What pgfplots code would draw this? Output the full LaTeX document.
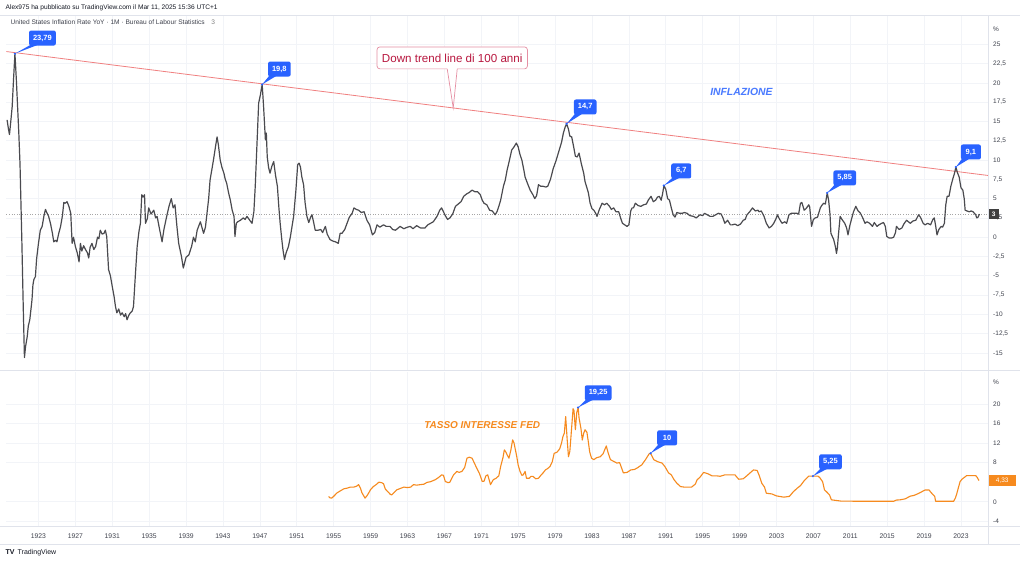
\documentclass[border=0pt]{standalone}
\usepackage{pgfplots}
\pgfplotsset{compat=1.18}
\usepackage{fontspec}
\setmainfont{Liberation Sans}
\definecolor{tvblue}{HTML}{2962FF}
\definecolor{infl}{HTML}{4A4A4F}
\definecolor{fed}{HTML}{F68A1E}
\definecolor{trend}{HTML}{F08080}
\definecolor{gridc}{HTML}{F2F4F8}
\definecolor{sepc}{HTML}{E0E3EB}
\definecolor{txt}{HTML}{131722}
\definecolor{ticktxt}{HTML}{3F424D}
\definecolor{crim}{HTML}{B8173F}
\definecolor{crimb}{HTML}{E58FA3}

\pgfplotstableread{
yr v
1919.6 15.2
1919.75 14.0
1919.86 13.3
1920.0 15.0
1920.15 16.9
1920.3 20.5
1920.45 23.79
1920.6 20.5
1920.87 13.5
1921.0 9.5
1921.2 -0.5
1921.35 -9
1921.48 -15.6
1921.6 -14.2
1921.78 -12.9
1921.9 -11.5
1922.06 -10.7
1922.2 -9.2
1922.3 -8.1
1922.4 -6.2
1922.5 -5.5
1922.67 -5.1
1922.8 -2.8
1923.0 -0.8
1923.2 0.9
1923.4 1.4
1923.6 2.8
1923.76 3.6
1923.9 3.2
1924.1 2.7
1924.3 1.8
1924.5 0.6
1924.66 -0.6
1924.85 -0.4
1925.0 -0.6
1925.2 0.5
1925.4 1.4
1925.6 2.8
1925.75 4.5
1925.9 4.4
1926.1 4.6
1926.3 4.0
1926.5 3.1
1926.65 -0.8
1926.8 0.0
1927.0 -1.2
1927.2 -2.0
1927.4 -3.2
1927.55 -0.8
1927.7 -1.8
1927.9 -1.1
1928.1 -1.6
1928.3 -2.0
1928.45 -2.7
1928.6 -1.3
1928.8 -0.8
1929.0 -1.6
1929.2 -1.2
1929.4 0.0
1929.55 -0.2
1929.7 0.9
1929.9 0.4
1930.1 0.5
1930.25 0.9
1930.4 0.1
1930.6 -4.2
1930.8 -5.0
1931.0 -6.4
1931.2 -7.7
1931.35 -9.0
1931.5 -9.8
1931.7 -9.3
1931.9 -10.1
1932.07 -9.8
1932.3 -10.3
1932.45 -9.9
1932.6 -10.7
1932.8 -10.1
1932.96 -9.8
1933.15 -9.6
1933.3 -9.0
1933.5 -5.0
1933.7 -1.2
1933.9 0.8
1934.05 1.8
1934.2 5.5
1934.35 5.2
1934.5 5.5
1934.6 1.8
1934.8 2.4
1934.95 3.8
1935.2 3.0
1935.5 3.5
1935.7 2.5
1935.86 2.7
1936.1 1.2
1936.4 -0.6
1936.6 1.0
1936.9 2.7
1937.15 4.0
1937.4 5.0
1937.6 3.8
1937.8 4.2
1938.0 1.5
1938.2 -0.8
1938.5 -2.5
1938.7 -4.0
1939.0 -2.6
1939.3 -2.3
1939.6 -1.2
1939.8 0.0
1940.0 -0.6
1940.2 0.9
1940.55 2.0
1940.9 0.5
1941.1 1.3
1941.25 2.9
1941.45 5.0
1941.6 7.4
1941.8 8.8
1941.97 10.0
1942.2 11.8
1942.36 13.0
1942.5 12.0
1942.7 10.0
1942.9 9.0
1943.1 8.3
1943.25 7.5
1943.4 7.0
1943.6 5.8
1943.8 4.8
1944.0 3.5
1944.2 2.7
1944.3 0.1
1944.45 1.8
1944.6 2.0
1944.9 2.2
1945.2 2.5
1945.4 2.3
1945.6 2.7
1945.9 2.2
1946.15 1.8
1946.35 3.3
1946.5 6.6
1946.65 11.0
1946.87 17.4
1947.05 18.4
1947.25 19.8
1947.4 17.0
1947.6 12.6
1947.7 13.5
1947.8 10.4
1947.95 9.0
1948.1 8.3
1948.3 9.2
1948.5 9.8
1948.7 8.0
1948.9 6.6
1949.05 4.0
1949.2 1.8
1949.35 0.0
1949.5 -1.6
1949.67 -2.9
1949.85 -2.0
1950.1 -1.2
1950.3 0.0
1950.5 1.5
1950.66 2.7
1950.9 6.0
1951.1 9.4
1951.25 9.6
1951.4 9.1
1951.55 7.8
1951.74 6.8
1951.9 4.5
1952.1 2.7
1952.3 1.9
1952.5 2.6
1952.65 2.9
1952.85 1.8
1953.0 0.9
1953.3 0.9
1953.6 1.0
1953.8 0.6
1954.1 1.4
1954.3 0.4
1954.6 -0.3
1954.9 -0.5
1955.2 -0.6
1955.5 -0.8
1955.7 0.5
1955.9 0.5
1956.2 1.0
1956.45 1.8
1956.7 2.6
1957.0 3.1
1957.2 3.8
1957.45 3.6
1957.7 3.5
1958.0 3.2
1958.3 3.3
1958.6 2.2
1958.9 1.6
1959.2 0.3
1959.45 0.6
1959.7 1.6
1960.0 1.3
1960.4 1.6
1960.7 1.4
1961.1 1.4
1961.4 1.0
1961.7 0.9
1962.0 1.2
1962.2 1.4
1962.6 1.1
1963.0 1.3
1963.3 1.4
1963.6 1.1
1964.0 1.5
1964.4 1.2
1964.9 1.2
1965.2 1.6
1965.5 1.8
1965.8 2.0
1966.2 2.7
1966.5 3.5
1966.7 3.8
1966.9 3.3
1967.1 2.8
1967.35 2.3
1967.6 2.5
1967.9 3.0
1968.2 4.0
1968.5 4.3
1968.8 4.6
1969.1 5.3
1969.4 5.6
1969.7 5.8
1970.0 6.1
1970.3 5.9
1970.6 5.9
1970.9 5.5
1971.1 4.8
1971.3 4.4
1971.6 4.2
1971.9 3.5
1972.2 3.4
1972.5 2.9
1972.7 3.3
1972.9 4.0
1973.1 4.8
1973.4 6.6
1973.6 7.4
1973.8 8.7
1974.0 9.7
1974.3 11.3
1974.55 11.7
1974.8 12.2
1975.0 11.7
1975.2 10.7
1975.4 10.0
1975.6 8.8
1975.75 7.8
1976.0 7.0
1976.3 6.1
1976.6 5.5
1976.8 5.0
1977.0 5.4
1977.2 6.8
1977.45 6.6
1977.7 6.6
1978.0 6.5
1978.2 6.6
1978.5 7.5
1978.8 8.9
1979.1 9.9
1979.4 11.1
1979.7 12.3
1979.9 13.5
1980.1 14.3
1980.25 14.7
1980.45 14.0
1980.6 13.1
1980.8 13.0
1981.0 11.8
1981.2 10.5
1981.4 10.4
1981.6 10.9
1981.85 9.5
1982.1 8.3
1982.25 7.2
1982.4 6.6
1982.6 5.8
1982.8 4.4
1983.0 3.7
1983.2 3.5
1983.4 3.1
1983.55 2.7
1983.8 3.6
1984.1 4.4
1984.35 4.2
1984.6 4.4
1984.9 4.0
1985.1 3.6
1985.35 3.8
1985.6 3.3
1985.9 3.3
1986.1 2.5
1986.3 1.8
1986.55 1.6
1986.8 1.4
1987.0 1.6
1987.2 3.4
1987.35 3.8
1987.5 3.8
1987.7 4.4
1988.0 4.1
1988.3 4.0
1988.6 4.2
1988.9 4.3
1989.1 4.8
1989.4 5.3
1989.65 4.6
1989.9 4.8
1990.1 5.2
1990.3 5.3
1990.5 4.8
1990.65 5.6
1990.8 6.7
1991.0 6.2
1991.2 5.0
1991.4 4.8
1991.6 3.8
1991.8 2.9
1992.0 2.6
1992.2 3.2
1992.5 3.1
1992.8 3.1
1993.0 3.2
1993.3 3.1
1993.6 2.8
1994.0 2.7
1994.3 2.5
1994.7 2.9
1995.0 2.8
1995.2 3.1
1995.5 2.9
1995.8 2.7
1996.1 2.7
1996.4 2.9
1996.7 3.1
1997.0 3.0
1997.2 2.5
1997.4 1.8
1997.7 2.2
1998.0 1.6
1998.2 1.6
1998.5 1.7
1998.8 1.5
1999.1 1.7
1999.4 2.2
1999.6 2.3
1999.8 2.9
2000.1 3.3
2000.4 3.8
2000.7 3.4
2001.0 3.5
2001.1 3.3
2001.35 3.4
2001.65 2.7
2001.9 1.8
2002.2 1.2
2002.45 1.4
2002.7 1.8
2002.95 2.4
2003.1 2.9
2003.3 2.4
2003.6 1.8
2003.9 2.0
2004.1 1.8
2004.35 2.9
2004.6 3.1
2004.9 3.1
2005.2 3.1
2005.4 3.0
2005.6 4.4
2005.75 4.5
2006.0 3.5
2006.2 3.7
2006.5 4.2
2006.6 3.9
2006.8 1.4
2007.0 2.3
2007.2 2.5
2007.45 2.6
2007.75 3.8
2007.9 4.1
2008.1 4.4
2008.3 4.3
2008.5 5.75
2008.65 4.8
2008.8 3.0
2008.9 0.5
2009.05 0.1
2009.2 -0.3
2009.4 -1.3
2009.5 -2.1
2009.6 -1.4
2009.7 0.1
2009.9 2.7
2010.1 2.3
2010.4 1.8
2010.6 1.2
2010.75 0.3
2010.95 1.5
2011.1 2.2
2011.35 3.3
2011.6 4.0
2011.85 3.4
2012.1 3.1
2012.35 2.5
2012.6 1.8
2012.8 2.0
2013.1 1.8
2013.4 1.4
2013.6 1.9
2013.9 1.4
2014.1 1.6
2014.4 1.8
2014.6 1.9
2014.8 1.4
2014.95 0.1
2015.2 -0.1
2015.5 -0.1
2015.7 0.0
2015.9 0.6
2016.0 1.4
2016.3 1.0
2016.6 1.2
2016.8 1.7
2017.1 2.2
2017.3 2.0
2017.5 1.8
2017.8 2.1
2018.1 2.2
2018.4 2.9
2018.6 2.6
2018.9 1.8
2019.1 1.6
2019.4 1.8
2019.7 1.6
2019.95 2.3
2020.1 2.5
2020.25 1.5
2020.4 0.3
2020.6 1.0
2020.85 1.4
2021.0 1.3
2021.2 1.8
2021.35 4.2
2021.5 5.3
2021.7 5.3
2021.9 6.6
2022.1 7.5
2022.3 8.3
2022.45 9.1
2022.6 8.4
2022.8 7.8
2023.0 6.4
2023.2 6.1
2023.35 5.0
2023.45 3.5
2023.65 3.4
2023.9 3.3
2024.1 3.4
2024.3 3.3
2024.45 3.1
2024.6 2.9
2024.7 2.5
2024.85 2.6
2025.0 3.0
}\inflation

\pgfplotstableread{
yr v
1954.45 1.08
1954.6 0.8
1954.8 0.75
1955.1 1.3
1955.35 1.8
1955.7 2.2
1956.1 2.65
1956.5 2.8
1956.8 3.0
1957.2 3.0
1957.5 3.2
1957.7 3.5
1957.9 2.8
1958.05 1.9
1958.2 1.4
1958.4 0.75
1958.6 1.2
1958.8 1.8
1959.0 2.5
1959.3 3.1
1959.6 3.5
1959.9 4.0
1960.2 3.9
1960.4 3.7
1960.6 2.6
1961.0 1.8
1961.15 1.5
1961.3 1.4
1961.5 1.8
1961.85 2.45
1962.2 2.7
1962.6 3.0
1963.0 2.9
1963.35 3.0
1963.65 3.5
1964.0 3.4
1964.4 3.5
1964.8 3.6
1965.1 3.95
1965.5 4.1
1966.0 4.5
1966.4 5.0
1966.7 5.5
1966.9 5.4
1967.1 4.15
1967.4 3.9
1967.6 4.0
1967.8 4.8
1968.0 5.5
1968.35 6.2
1968.6 6.0
1968.9 6.2
1969.2 7.0
1969.45 8.9
1969.7 9.1
1970.0 8.9
1970.25 7.9
1970.5 6.9
1970.8 5.8
1971.1 4.15
1971.3 4.2
1971.5 5.3
1971.7 5.5
1972.0 3.5
1972.3 4.5
1972.6 4.8
1972.9 5.3
1973.1 7.2
1973.35 9.0
1973.5 10.6
1973.65 10.2
1973.8 9.6
1974.0 8.9
1974.2 10.5
1974.4 12.65
1974.55 12.0
1974.85 9.2
1975.0 7.5
1975.2 6.2
1975.4 5.4
1975.55 5.5
1975.75 6.2
1975.9 4.8
1976.2 4.8
1976.4 5.2
1976.6 5.2
1976.9 4.7
1977.2 4.8
1977.45 5.4
1977.7 5.9
1977.95 6.5
1978.2 6.8
1978.45 7.2
1978.7 8.2
1978.9 9.9
1979.2 10.1
1979.5 10.8
1979.7 12.0
1979.85 13.3
1980.0 14.0
1980.15 17.4
1980.3 13.0
1980.45 9.2
1980.6 10.3
1980.75 14.0
1980.95 19.0
1981.05 18.6
1981.2 14.7
1981.35 18.2
1981.5 19.25
1981.6 17.1
1981.8 15.0
1981.95 12.6
1982.1 14.0
1982.25 14.7
1982.45 14.2
1982.6 12.3
1982.75 10.2
1982.95 8.9
1983.2 8.6
1983.5 9.0
1983.9 9.2
1984.2 9.8
1984.55 11.4
1984.75 10.0
1985.0 8.6
1985.3 8.3
1985.7 7.9
1986.0 8.0
1986.4 5.9
1986.8 6.0
1987.2 6.5
1987.6 6.6
1987.9 6.9
1988.4 7.55
1988.8 8.6
1989.2 9.8
1989.35 9.9
1989.7 8.6
1990.1 8.2
1990.6 7.9
1990.9 7.2
1991.3 5.9
1991.6 5.5
1991.9 4.5
1992.2 3.8
1992.6 3.1
1993.0 3.0
1993.8 3.0
1994.2 3.6
1994.4 4.5
1994.7 5.0
1995.1 6.0
1995.6 5.7
1996.0 5.3
1996.5 5.3
1996.9 5.2
1997.4 5.5
1998.5 5.5
1998.9 4.6
1999.4 4.7
1999.9 5.5
2000.5 6.5
2000.9 6.4
2001.1 5.5
2001.4 3.8
2001.7 3.0
2001.9 1.75
2002.5 1.6
2003.0 1.2
2003.8 0.95
2004.4 1.1
2004.8 2.0
2005.2 2.7
2005.6 3.3
2006.0 4.3
2006.5 5.25
2007.5 5.25
2007.7 4.9
2008.0 4.1
2008.2 2.45
2008.5 1.9
2008.75 1.4
2008.95 0.4
2009.95 0.15
2012.1 0.1
2015.7 0.1
2016.0 0.35
2016.4 0.4
2016.95 0.6
2017.5 1.15
2017.9 1.3
2018.4 1.7
2018.9 2.2
2019.1 2.4
2019.55 2.4
2019.7 2.0
2019.9 1.6
2020.15 1.1
2020.25 0.1
2022.2 0.1
2022.4 0.8
2022.55 1.7
2022.75 3.1
2022.9 4.1
2023.1 4.6
2023.45 5.1
2023.6 5.33
2024.6 5.33
2024.75 5.0
2024.95 4.33
}\fedfunds

\pgfplotsset{
  tvaxis/.style={
    scale only axis, anchor=south west, width=982pt,
    xmin=1919.53, xmax=2025.93,
    clip=false,
    axis line style={draw=none}, tick style={draw=none},
    xtick={1923,1927,...,2023},
    grid=major, major grid style={gridc, line width=0.6pt},
    yticklabel pos=right,
    yticklabel style={anchor=west, inner sep=0pt, xshift=5pt, font=\fontsize{6.5}{7}\selectfont, text=ticktxt},
    xticklabel style={anchor=center, inner sep=0pt, yshift=-9pt, font=\fontsize{6.8}{8}\selectfont, text=ticktxt},
    /pgf/number format/use comma, /pgf/number format/1000 sep={}, /pgf/number format/assume math mode=true,
  }
}
\tikzset{
  tvbox/.style={fill=tvblue, rounded corners=2pt, text=white, inner xsep=4pt, inner ysep=0pt,
    minimum height=15pt, minimum width=20pt, font=\fontsize{7.5}{8}\selectfont\bfseries}
}

\newcommand{\tvcall}[5]{%
  \node[tvbox] (c) at ([shift={(#3pt,#4pt)}]axis cs:#1,#2) {#5};
  \fill[tvblue] (axis cs:#1,#2) -- ([xshift=1pt,yshift=0.5pt]c.south west) -- ([xshift=8pt,yshift=0.5pt]c.south west) -- cycle;
  \fill[tvblue] (axis cs:#1,#2) circle (1.2pt);
}

\begin{document}
\begin{tikzpicture}
\fill[white] (0pt,0pt) rectangle (1024pt,564pt);

% upper panel: inflation
\begin{axis}[tvaxis, at={(6pt,194pt)}, height=355pt,
  ymin=-17.19, ymax=28.8,
  ytick={-15,-12.5,...,25}, xticklabels={}]
  \addplot[trend, line width=0.8pt] coordinates {(1919.53,24.06) (2025.93,8.0)};
  \draw[gray!70, dotted, line width=0.6pt] (axis cs:1919.53,3) -- (axis cs:2025.93,3);
  \addplot[infl, line width=1.2pt, line join=round] table[x=yr, y=v] {\inflation};
  % trend callout
  \node[draw=crimb, fill=white, rounded corners=3pt, line width=0.7pt, text=crim,
        font=\fontsize{11.6}{13}\selectfont, minimum height=22pt, inner xsep=5pt] (tb)
        at ([shift={(-1pt,50pt)}]axis cs:1967.96,16.76) {Down trend line di 100 anni};
  \fill[white] ([xshift=-5pt,yshift=1pt]tb.south) -- (axis cs:1967.96,16.76) -- ([xshift=5pt,yshift=1pt]tb.south) -- cycle;
  \draw[crimb, line width=0.7pt] ([xshift=-5pt,yshift=0.35pt]tb.south) -- (axis cs:1967.96,16.76) -- ([xshift=5pt,yshift=0.35pt]tb.south);
  % label
  \node[text=tvblue!85!white, font=\fontsize{10.4}{12}\selectfont\bfseries\itshape] at (axis cs:1999.2,18.8) {INFLAZIONE};
  % callouts
  \tvcall{1920.45}{23.79}{27.5}{15.6}{23,79}
  \tvcall{1947.25}{19.8}{17.2}{15.4}{19,8}
  \tvcall{1980.25}{14.7}{18.6}{16.8}{14,7}
  \tvcall{1990.8}{6.7}{17.3}{14.6}{6,7}
  \tvcall{2008.5}{5.75}{17.5}{14.9}{5,85}
  \tvcall{2022.45}{9.1}{15}{15}{9,1}
  % price box and percent
  \node[fill=black!75, text=white, inner sep=1.5pt, minimum height=10pt, minimum width=11pt, font=\fontsize{6.5}{7}\selectfont\bfseries, anchor=west]
    at (axis cs:2025.93,3) {3};
  \node[anchor=west, inner sep=0pt, font=\fontsize{6.5}{7}\selectfont, text=ticktxt] at ([xshift=5pt]axis cs:2025.93,26.9) {\%};
\end{axis}

% lower panel: fed funds
\begin{axis}[tvaxis, at={(6pt,37pt)}, height=155pt,
  ymin=-5.10, ymax=26.53,
  ytick={-4,0,8,12,16,20},
  xticklabels={1923,1927,1931,1935,1939,1943,1947,1951,1955,1959,1963,1967,1971,1975,1979,1983,1987,1991,1995,1999,2003,2007,2011,2015,2019,2023}]
  \addplot[fed, line width=1.1pt, line join=round] table[x=yr, y=v] {\fedfunds};
  \node[text=fed, font=\fontsize{10}{12}\selectfont\bfseries\itshape] at (axis cs:1971.1,15.7) {TASSO INTERESSE FED};
  \tvcall{1981.5}{19.25}{20}{14.7}{19,25}
  \tvcall{1989.35}{9.9}{16.6}{15.5}{10}
  \tvcall{2006.95}{5.25}{17.6}{14.3}{5,25}
  \node[fill=fed, text=white, inner xsep=2pt, inner ysep=0pt, minimum height=11pt, minimum width=28pt, font=\fontsize{6.5}{7}\selectfont, anchor=west]
    at (axis cs:2025.93,4.33) {4,33};
  \node[anchor=west, inner sep=0pt, font=\fontsize{6.5}{7}\selectfont, text=ticktxt] at ([xshift=5pt]axis cs:2025.93,24.5) {\%};
\end{axis}

% separators
\draw[sepc, line width=0.7pt] (988pt,19pt) -- (988pt,549pt);
\draw[sepc, line width=0.9pt] (0pt,193pt) -- (1020pt,193pt);
\draw[sepc, line width=0.7pt] (0pt,37pt) -- (1020pt,37pt);
\draw[sepc, line width=0.7pt] (0pt,19pt) -- (1020pt,19pt);
\draw[sepc, line width=0.7pt] (0pt,549pt) -- (1020pt,549pt);

% header texts
\node[anchor=west, inner sep=0pt, text=txt, font=\fontsize{6.6}{8}\selectfont] at (5pt,556pt)
  {Alex975 ha pubblicato su TradingView.com il Mar 11, 2025 15:36 UTC+1};
\node[anchor=west, inner sep=0pt, text=ticktxt, font=\fontsize{6.6}{7}\selectfont] at (10pt,542pt)
  {United States Inflation Rate YoY · 1M · Bureau of Labour Statistics\quad{\color{gray}3}};
\node[anchor=west, inner sep=0pt, text=txt, font=\fontsize{7}{8}\selectfont] at (5pt,11pt)
  {{\bfseries TV}\, TradingView};
\end{tikzpicture}
\end{document}
